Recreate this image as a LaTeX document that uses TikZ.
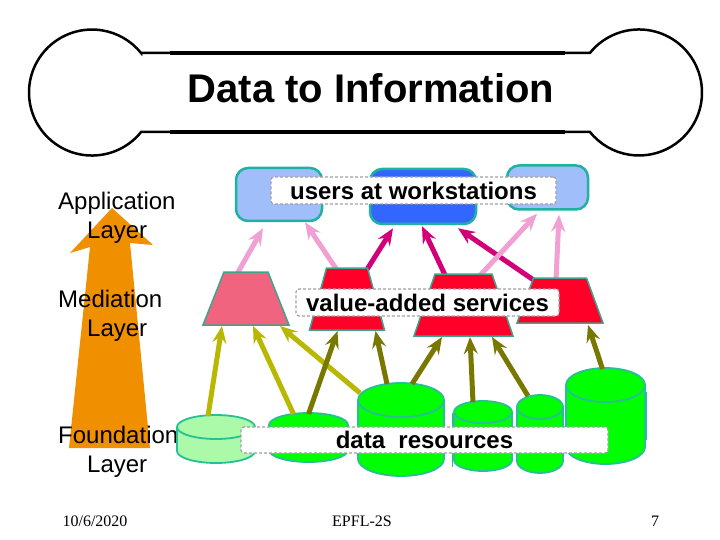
\documentclass[tikz,border=0pt]{standalone}
\usepackage{fontspec}
\setmainfont{Liberation Sans}
\newfontfamily\footfont{Liberation Serif}
\usetikzlibrary{arrows.meta,calc}
\definecolor{boxline}{RGB}{32,178,160}
\definecolor{lightblue}{RGB}{160,190,250}
\definecolor{darkblue}{RGB}{51,102,255}
\definecolor{trapred}{RGB}{255,0,40}
\definecolor{trappink}{RGB}{240,100,128}
\definecolor{trapline}{RGB}{60,165,140}
\definecolor{cylgreen}{RGB}{0,255,0}
\definecolor{cyllight}{RGB}{170,250,170}
\definecolor{cylline}{RGB}{40,190,150}
\definecolor{arrpink}{RGB}{240,160,210}
\definecolor{arrmag}{RGB}{210,0,120}
\definecolor{arryel}{RGB}{184,184,0}
\definecolor{arrolive}{RGB}{120,120,0}
\definecolor{orangearr}{RGB}{240,144,0}
\definecolor{labelline}{RGB}{160,160,160}
% name, cx, rx, ytop-centre, ybottom-centre, ry, fill
\newcommand\drawcyl[7]{%
  \path[fill=#7,draw=cylline,line width=1.8pt] (#2-#3,#4) -- (#2-#3,#5)
     arc[start angle=180,end angle=0,x radius=#3,y radius=#6] -- (#2+#3,#4)
     arc[start angle=0,end angle=-180,x radius=#3,y radius=#6] -- cycle;
  \draw[cylline,line width=1.8pt] (#2-#3,#4) arc[start angle=180,end angle=0,x radius=#3,y radius=#6];
  \node[anchornode,minimum width={2*#3},minimum height={#5-#4+2*#6}] (#1) at (#2,{(#4+#5)/2}) {};
}
% name, cx, ytop, ybottom, top width, bottom width
\newcommand\trapnode[6]{%
  \node[anchornode,minimum width={#6},minimum height={#4-#3}] (#1) at (#2,{(#3+#4)/2}) {};
}
% cx, ytop, ybottom, top width, bottom width, fill
\newcommand\trapshape[6]{%
  \path[fill=#6,draw=trapline,line width=1.5pt] (#1-#4/2,#2) -- (#1+#4/2,#2) -- (#1+#5/2,#3) -- (#1-#5/2,#3) -- cycle;
}
\begin{document}
\begin{tikzpicture}[x=1pt,y=-1pt,
  wsbox/.style={draw=boxline,line width=2.5pt,rounded corners=12pt,inner sep=0pt},
  conn/.style={line width=5pt,-{Stealth[length=17pt,width=14pt,inset=6pt]}},
  lbl/.style={fill=white,draw=labelline,dash pattern=on 3pt off 2pt,line width=1.2pt,rounded corners=3pt,inner sep=0pt,font=\bfseries\fontsize{24}{28}\selectfont},
  layer/.style={align=left,anchor=north west,font=\fontsize{24}{29}\selectfont,inner sep=0pt},
  foot/.style={font=\footfont\fontsize{16}{19}\selectfont,inner sep=0pt},
  anchornode/.style={inner sep=0pt,outer sep=0pt}
]
\useasboundingbox (0,0) rectangle (720,540);
\fill[white] (0,0) rectangle (720,540);
% bone
\draw[line width=2.5pt] (141.1,53) -- (589.9,53)
   arc[start angle=-141.2,end angle=141.2,radius=63] -- (141.1,132)
   arc[start angle=38.8,end angle=321.2,radius=63] -- cycle;
\draw[line width=4pt] (170,53) -- (565,53) (170,132) -- (565,132);
\node[font=\bfseries\fontsize{40}{48}\selectfont,inner sep=0pt] (title) at (371,88) {Data to Information};
% orange arrow
\fill[orangearr] (112,208) -- (153,245) -- (130,243) -- (150,448) -- (69,448) -- (90,247) -- (70,253) -- cycle;
\node[layer] (app) at (58,192) {Application\\\hspace*{29pt}Layer};
\node[layer] (med) at (58,290) {Mediation\\\hspace*{29pt}Layer};
\node[layer] (fnd) at (58,426) {Foundation\\\hspace*{29pt}Layer};
% top boxes
\node[wsbox,fill=lightblue,minimum width=86pt,minimum height=53pt] (b1) at (279,194.5) {};
\node[wsbox,fill=darkblue,minimum width=106pt,minimum height=55pt] (b2) at (423,196.5) {};
\node[wsbox,fill=lightblue,minimum width=81pt,minimum height=44pt] (b3) at (547.5,187.5) {};
% trapezium anchor nodes
\trapnode{t1}{246}{272}{325}{44}{86}
\trapnode{t2}{347}{268}{330}{41}{75}
\trapnode{t3}{463.5}{274}{336}{57}{99}
\trapnode{t4}{560}{278}{323}{53}{86}
% top arrows
\draw[conn,arrpink] ($(t1.north)+(-9,2)$) -- ($(b1.south)+(-16,6)$);
\draw[conn,arrpink] ($(t2.north)+(-10,2)$) -- ($(b1.south)+(26,0)$);
\draw[conn,arrmag] ($(t2.north)+(19,3)$) -- ($(b2.south)+(-30,3)$);
\draw[conn,arrmag] ($(t3.north)+(-18,2)$) -- ($(b2.south)+(-1,1)$);
\draw[conn,arrmag] ($(t4.north)+(-25,3)$) -- ($(b2.south)+(35,3)$);
\draw[conn,arrpink] ($(t3.north)+(16,2)$) -- ($(b3.south)+(-10.5,3)$);
\draw[conn,arrpink] ($(t4.north)+(-4,2)$) -- ($(b3.south)+(11.5,4)$);
% trapezia
\trapshape{246}{272}{325}{44}{86}{trappink}
\trapshape{347}{268}{330}{41}{75}{trapred}
\trapshape{463.5}{274}{336}{57}{99}{trapred}
\trapshape{560}{278}{323}{53}{86}{trapred}
% cylinders
\drawcyl{c1}{216}{39}{427}{451}{12}{cyllight}
\drawcyl{c2}{308.5}{39.5}{425}{450}{12}{cylgreen}
\drawcyl{c3}{401}{43}{400}{459}{17}{cylgreen}
\drawcyl{c4}{483}{29}{412}{460}{11}{cylgreen}
\drawcyl{c5}{540}{23}{407}{461}{12}{cylgreen}
\drawcyl{c6}{605.5}{39.5}{385}{447}{17}{cylgreen}
\draw[cylline,line width=0.8pt] (452,413) -- (452,467);
\draw[cylline,line width=0.8pt] (646.5,392) -- (646.5,440);
% bottom arrows
\draw[conn,arryel] ($(c1.north)+(-8,1)$) -- ($(t1.south)+(-24,1)$);
\draw[conn,arryel] ($(c2.north)+(-15,1)$) -- ($(t1.south)+(7,1)$);
\draw[conn,arryel] ($(c3.north)+(-41,10)$) -- ($(t1.south)+(34,1)$);
\draw[conn,arrolive] ($(c2.north)+(0,1)$) -- ($(t2.south)+(-9.5,1)$);
\draw[conn,arrolive] ($(c3.north)+(-14,1)$) -- ($(t2.south)+(28.5,1)$);
\draw[conn,arrolive] ($(c3.north)+(11,1)$) -- ($(t3.south)+(-21.5,1)$);
\draw[conn,arrolive] ($(c4.north)+(-10,1)$) -- ($(t3.south)+(6.5,1)$);
\draw[conn,arrolive] ($(c5.north)+(-12,1)$) -- ($(t3.south)+(28.5,1)$);
\draw[conn,arrolive] ($(c6.north)+(-3,1)$) -- ($(t4.south)+(28,2)$);
% labels
\node[lbl,minimum width=285pt,minimum height=27pt] (l1) at (413.5,190.5) {users at workstations};
\node[lbl,minimum width=263pt,minimum height=27pt] (l2) at (427.5,302.5) {value-added services};
\node[lbl,minimum width=367pt,minimum height=26pt] (l3) at (424.5,440) {data\ \ resources};
% footer
\node[foot] (f1) at (95,521) {10/6/2020};
\node[foot] (f2) at (362,521) {EPFL-2S};
\node[foot] (f3) at (655,521) {7};
\end{tikzpicture}
\end{document}
